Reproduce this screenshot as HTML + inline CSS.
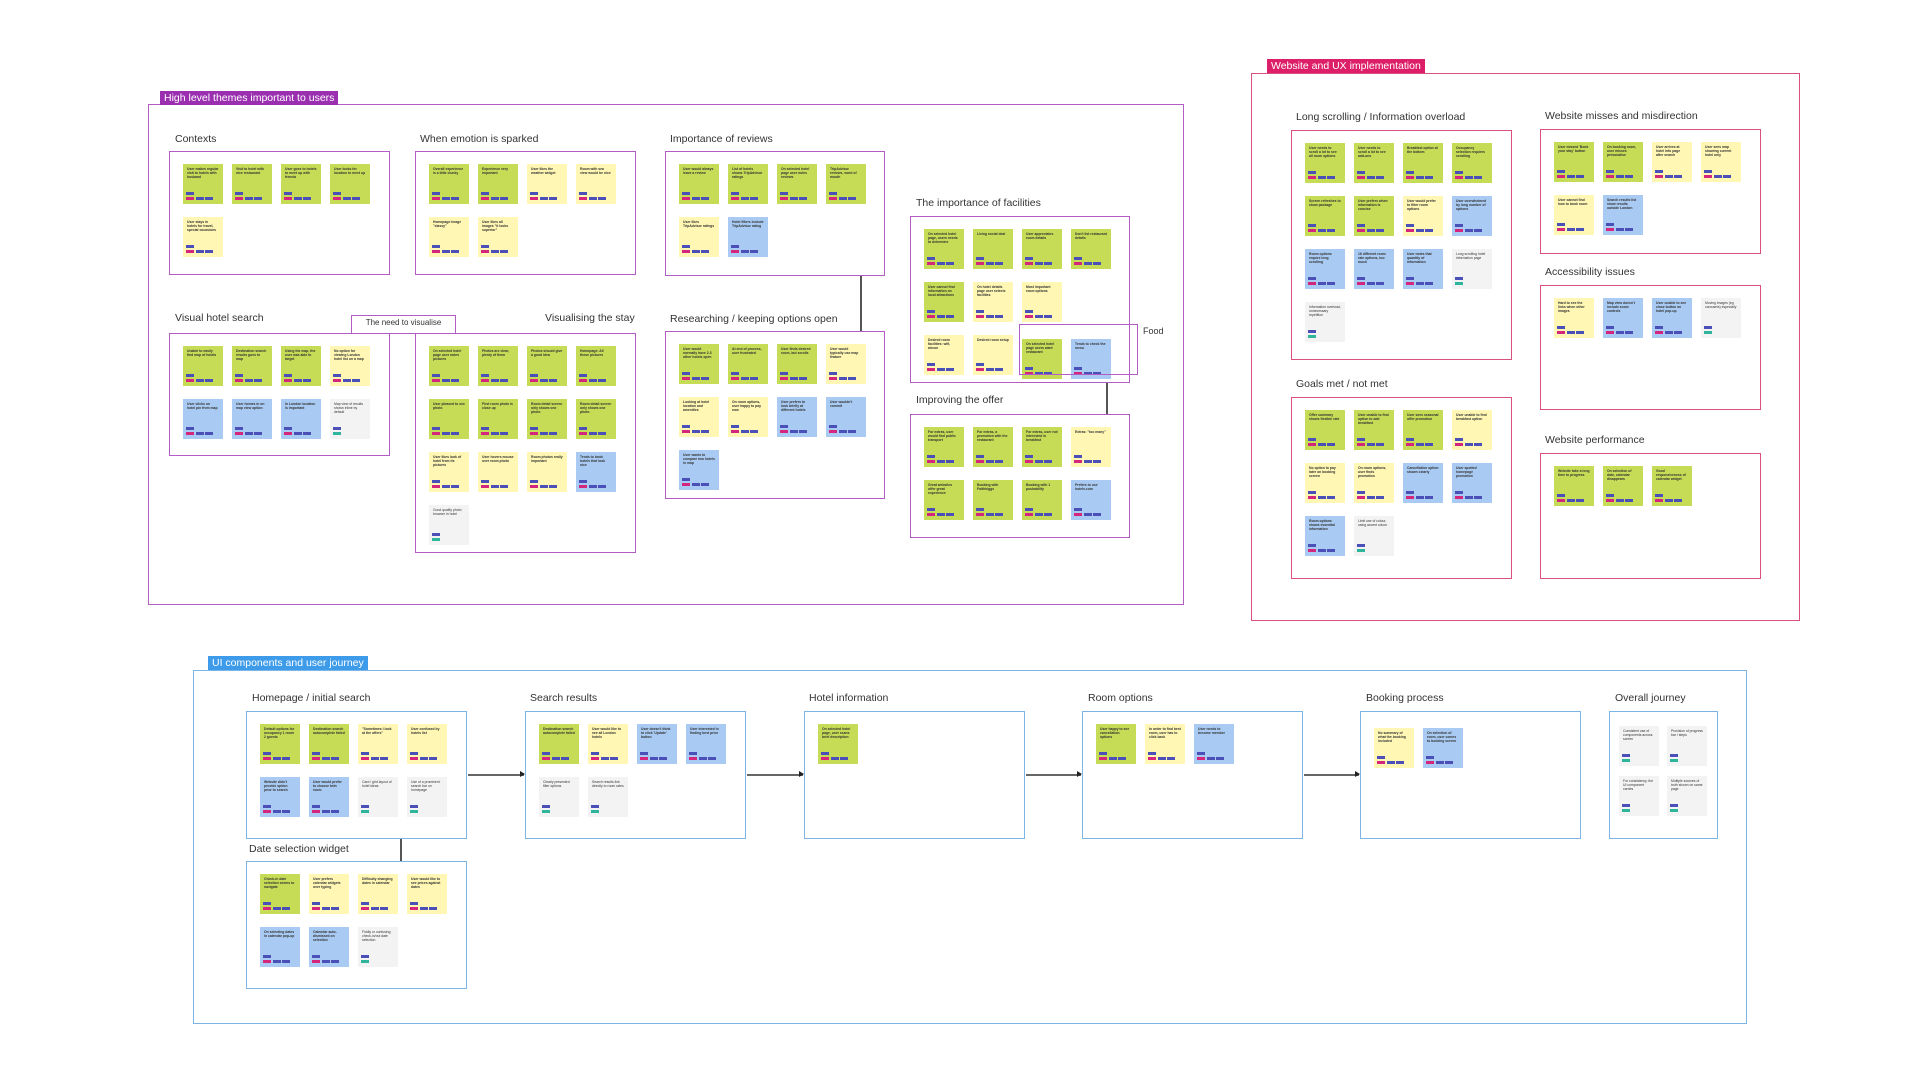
<!DOCTYPE html>
<html><head><meta charset="utf-8"><style>
*{box-sizing:border-box;margin:0;padding:0}
body{width:1920px;height:1080px;background:#fff;position:relative;overflow:hidden;font-family:"Liberation Sans",sans-serif}
.F{position:absolute;border:1.5px solid}
.L{position:absolute;color:#fff;font-size:10.5px;padding:1px 4px;line-height:12px;white-space:nowrap}
.T{position:absolute;font-size:10.5px;color:#333;white-space:nowrap}
.B{position:absolute;border:1.5px solid;display:flex;flex-wrap:wrap;align-content:flex-start;gap:13px 9px;padding:12px 13px}
.P{border-color:#b45cc6}.K{border-color:#d9507e}.U{border-color:#7db6e6}
.s{width:40px;height:40px;position:relative;font-size:3.4px;font-weight:bold;color:#333;padding:3px 4px;line-height:4.2px;overflow:hidden}
.g{background:#c6dc56}.y{background:#fff7b3}.b{background:#a9cbf3}.w{background:#f3f3f3;font-weight:normal}
.s::before{content:"";position:absolute;left:3px;bottom:9px;width:8px;height:3px;background:#4b4fb8}
.s::after{content:"";position:absolute;left:3px;bottom:4px;width:8px;height:3px;background:#d3267c;box-shadow:10px 0 #4b4fb8,19px 0 #4b4fb8}
.w::before{background:#4b4fb8}.w::after{background:#2fb59b;box-shadow:none}
.ln{position:absolute;background:#555}
.ar{position:absolute;height:1.5px;background:#666}
.ar::after{content:"";position:absolute;right:-1px;top:-3px;border-left:5px solid #222;border-top:3.5px solid transparent;border-bottom:3.5px solid transparent}
</style></head><body>

<!-- High level themes -->
<div class="F P" style="left:148px;top:104px;width:1036px;height:501px"></div>
<div class="L" style="left:160px;top:91px;background:#9a2fb0">High level themes important to users</div>

<div class="T" style="left:175px;top:133px">Contexts</div>
<div class="B P" style="left:169px;top:151px;width:221px;height:124px">
<div class="s g">User makes regular visit to hotels with husband</div><div class="s g">Visit to hotel with nice restaurant</div><div class="s g">User goes to hotels to meet up with friends</div><div class="s g">User looks for location to meet up</div><div class="s y">User stays in hotels for travel, special occasions</div></div>

<div class="T" style="left:420px;top:133px">When emotion is sparked</div>
<div class="B P" style="left:415px;top:151px;width:221px;height:124px">
<div class="s g">Overall experience is a little clunky</div><div class="s g">Experience very important</div><div class="s y">User likes the weather widget</div><div class="s y">Room with sea view would be nice</div><div class="s y">Homepage image "classy"</div><div class="s y">User likes all images "it looks superior"</div></div>

<div class="T" style="left:670px;top:133px">Importance of reviews</div>
<div class="B P" style="left:665px;top:151px;width:220px;height:125px">
<div class="s g">User would always leave a review</div><div class="s g">List of hotels shows TripAdvisor ratings</div><div class="s g">On selected hotel page user notes reviews</div><div class="s g">TripAdvisor reviews, word of mouth</div><div class="s y">User likes TripAdvisor ratings</div><div class="s b">Hotel filters include TripAdvisor rating</div></div>
<div class="ln" style="left:860px;top:276px;width:1.5px;height:55px"></div>

<div class="T" style="left:916px;top:197px">The importance of facilities</div>
<div class="B P" style="left:910px;top:216px;width:220px;height:167px">
<div class="s g">On selected hotel page, users needs to determine</div><div class="s g">Living social deal</div><div class="s g">User appreciates room details</div><div class="s g">Don't list restaurant details</div><div class="s g">User cannot find information on local attractions</div><div class="s y">On hotel details page user selects facilities</div><div class="s y">Most important room options</div><div style="width:40px"></div><div class="s y">Desired room facilities: wifi, aircon</div><div class="s y">Desired room setup</div><div class="s g" style="margin-top:4px">On selected hotel page users want restaurant</div><div class="s b" style="margin-top:4px">Tends to check the menu</div></div>
<div class="F P" style="left:1019px;top:324px;width:119px;height:51px"></div>
<div class="T" style="left:1143px;top:326px;font-size:9px">Food</div>
<div class="ln" style="left:1106px;top:383px;width:1.5px;height:31px"></div>

<div class="T" style="left:175px;top:312px">Visual hotel search</div>
<div class="B P" style="left:169px;top:333px;width:221px;height:123px">
<div class="s g">Unable to easily find map of hotels</div><div class="s g">Destination search results goes to map</div><div class="s g">Using the map, the user was able to target</div><div class="s y">No option for viewing London hotel list on a map</div><div class="s b">User clicks on hotel pin from map</div><div class="s b">User homes in on map view option</div><div class="s b">In London location is important</div><div class="s w">Map view of results shown inline by default</div></div>

<div class="T" style="left:545px;top:312px;width:85px;text-align:right">Visualising the stay</div>
<div class="B P" style="left:415px;top:333px;width:221px;height:220px">
<div class="s g">On selected hotel page user notes pictures</div><div class="s g">Photos are clear, plenty of them</div><div class="s g">Photos should give a good idea</div><div class="s g">Homepage: All those pictures</div><div class="s g">User pleased to see photo</div><div class="s g">First room photo is close up</div><div class="s g">Room detail screen only shows one photo</div><div class="s g">Room detail screen only shows one photo</div><div class="s y">User likes look of hotel from its pictures</div><div class="s y">User hovers mouse over room photo</div><div class="s y">Room photos really important</div><div class="s b">Tends to book hotels that look nice</div><div class="s w">Good quality photo browser in hotel</div></div>
<div class="F P" style="left:351px;top:315px;width:105px;height:19px"></div>
<div class="T" style="left:351px;top:318px;width:105px;text-align:center;font-size:8px">The need to visualise</div>

<div class="T" style="left:670px;top:313px">Researching / keeping options open</div>
<div class="B P" style="left:665px;top:331px;width:220px;height:168px">
<div class="s g">User would normally have 2-3 other hotels open</div><div class="s g">At end of process, user frustrated</div><div class="s g">User finds desired room, but scrolls</div><div class="s y">User would typically use map feature</div><div class="s y">Looking at hotel location and amenities</div><div class="s y">On room options, user happy to pay now</div><div class="s b">User prefers to look briefly at different hotels</div><div class="s b">User wouldn't commit</div><div class="s b">User wants to compare two hotels in map</div></div>

<div class="T" style="left:916px;top:394px">Improving the offer</div>
<div class="B P" style="left:910px;top:414px;width:220px;height:124px">
<div class="s g">For extras, user would find public transport</div><div class="s g">For extras, a promotion with the restaurant</div><div class="s g">For extras, user not interested in breakfast</div><div class="s y">Extras: "too many"</div><div class="s g">Great websites offer great experience</div><div class="s g">Booking with Faithhiggs</div><div class="s g">Booking with 1 pushability</div><div class="s b">Prefers to use hotels.com</div></div>

<!-- Website and UX -->
<div class="F K" style="left:1251px;top:73px;width:549px;height:548px"></div>
<div class="L" style="left:1267px;top:59px;background:#dc1f68">Website and UX implementation</div>

<div class="T" style="left:1296px;top:111px">Long scrolling / Information overload</div>
<div class="B K" style="left:1291px;top:130px;width:221px;height:230px">
<div class="s g">User needs to scroll a lot to see all room options</div><div class="s g">User needs to scroll a lot to see add-ons</div><div class="s g">Breakfast option at the bottom</div><div class="s g">Occupancy selection requires scrolling</div><div class="s g">Screen refreshes to show package</div><div class="s g">User prefers when information is concise</div><div class="s y">User would prefer to filter room options</div><div class="s b">User overwhelmed by long number of options</div><div class="s b">Room options require long scrolling</div><div class="s b">16 different room rate options, too much</div><div class="s b">User notes that quantity of information</div><div class="s w">Long scrolling hotel information page</div><div class="s w">Information overload, unnecessary repetition</div></div>

<div class="T" style="left:1296px;top:378px">Goals met / not met</div>
<div class="B K" style="left:1291px;top:397px;width:221px;height:182px">
<div class="s g">Offer summary shows flexible rate</div><div class="s g">User unable to find option to add breakfast</div><div class="s g">User sees seasonal offer promotion</div><div class="s y">User unable to find breakfast option</div><div class="s y">No option to pay later on booking screen</div><div class="s y">On room options, user finds promotion</div><div class="s b">Cancellation option shown clearly</div><div class="s b">User spotted homepage promotion</div><div class="s b">Room options shows essential information</div><div class="s w">Limit use of colour, using accent colour</div></div>

<div class="T" style="left:1545px;top:110px">Website misses and misdirection</div>
<div class="B K" style="left:1540px;top:129px;width:221px;height:125px">
<div class="s g">User missed 'Book your stay' button</div><div class="s g">On booking room, user misses personalise</div><div class="s y">User arrives at hotel info page after search</div><div class="s y">User sees map showing current hotel only</div><div class="s y">User cannot find how to book room</div><div class="s b">Search results list show results outside London</div></div>

<div class="T" style="left:1545px;top:266px">Accessibility issues</div>
<div class="B K" style="left:1540px;top:285px;width:221px;height:125px">
<div class="s y">Hard to see the links when other images</div><div class="s b">Map view doesn't include zoom controls</div><div class="s b">User unable to see close button on hotel pop-up</div><div class="s w">Moving images (eg carousels) especially</div></div>

<div class="T" style="left:1545px;top:434px">Website performance</div>
<div class="B K" style="left:1540px;top:453px;width:221px;height:126px">
<div class="s g">Website take a long time to progress</div><div class="s g">On selection of date, calendar disappears</div><div class="s g">Good responsiveness of calendar widget</div></div>

<!-- UI components -->
<div class="F U" style="left:193px;top:670px;width:1554px;height:354px"></div>
<div class="L" style="left:208px;top:656px;background:#3d9be9">UI components and user journey</div>

<div class="T" style="left:252px;top:692px">Homepage / initial search</div>
<div class="B U" style="left:246px;top:711px;width:221px;height:128px">
<div class="s g">Default options for occupancy 1 room 2 guests</div><div class="s g">Destination search autocomplete failed</div><div class="s y">"Sometimes I look at the offers"</div><div class="s y">User confused by hotels list</div><div class="s b">Website didn't provide option prior to search</div><div class="s b">User would prefer to choose twin room</div><div class="s w">Card / grid layout of hotel ideas</div><div class="s w">Use of a prominent search bar on homepage</div></div>
<div class="ln" style="left:400px;top:839px;width:1.5px;height:22px"></div>

<div class="T" style="left:249px;top:843px">Date selection widget</div>
<div class="B U" style="left:246px;top:861px;width:221px;height:128px">
<div class="s g">Check-in date selection seems to navigate</div><div class="s y">User prefers calendar widgets over typing</div><div class="s y">Difficulty changing dates in calendar</div><div class="s y">User would like to see prices against dates</div><div class="s b">On selecting dates in calendar pop-up</div><div class="s b">Calendar auto-dismissed on selection</div><div class="s w">Fiddly or confusing check-in/out date selection</div></div>

<div class="T" style="left:530px;top:692px">Search results</div>
<div class="B U" style="left:525px;top:711px;width:221px;height:128px">
<div class="s g">Destination search autocomplete failed</div><div class="s y">User would like to see all London hotels</div><div class="s b">User doesn't think to click 'Update' button</div><div class="s b">User interested in finding best price</div><div class="s w">Clearly presented filter options</div><div class="s w">Search results link directly to room rates</div></div>

<div class="T" style="left:809px;top:692px">Hotel information</div>
<div class="B U" style="left:804px;top:711px;width:221px;height:128px">
<div class="s g">On selected hotel page, user scans brief description</div></div>

<div class="T" style="left:1088px;top:692px">Room options</div>
<div class="B U" style="left:1082px;top:711px;width:221px;height:128px">
<div class="s g">User happy to see cancellation options</div><div class="s y">In order to find best room, user has to click back</div><div class="s b">User needs to become member</div></div>

<div class="T" style="left:1366px;top:692px">Booking process</div>
<div class="B U" style="left:1360px;top:711px;width:221px;height:128px;padding-top:16px">
<div class="s y">No summary of what the booking included</div><div class="s b">On selection of room, user comes to booking screen</div></div>

<div class="T" style="left:1615px;top:692px">Overall journey</div>
<div class="B U" style="left:1609px;top:711px;width:109px;height:128px;gap:10px 8px;padding:14px 9px">
<div class="s w">Consistent use of components across screen</div><div class="s w">Provision of progress bar / steps</div><div class="s w">For consistency, the UI component carries</div><div class="s w">Multiple sources of truth shown on same page</div></div>

<div class="ar" style="left:468px;top:774px;width:56px"></div>
<div class="ar" style="left:747px;top:774px;width:56px"></div>
<div class="ar" style="left:1026px;top:774px;width:55px"></div>
<div class="ar" style="left:1304px;top:774px;width:55px"></div>
</body></html>
